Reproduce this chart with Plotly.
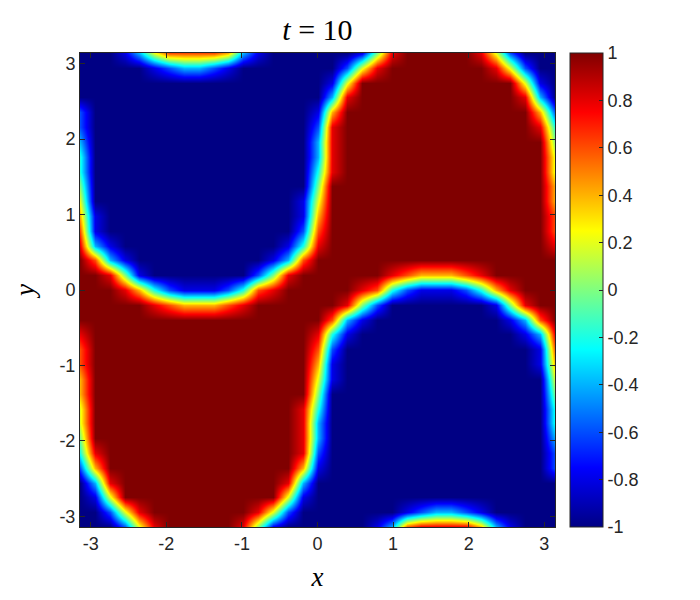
import plotly.graph_objects as go

# node coordinates shared by both axes (x = y), from -pi to pi
grid = [
    -3.1416, -2.9452, -2.7489, -2.5525, -2.3562, -2.1598, -1.9635, -1.7671,
    -1.5708, -1.3744, -1.1781, -0.9817, -0.7854, -0.5890, -0.3927, -0.1963,
    0.0, 0.1963, 0.3927, 0.5890, 0.7854, 0.9817, 1.1781, 1.3744,
    1.5708, 1.7671, 1.9635, 2.1598, 2.3562, 2.5525, 2.7489, 2.9452, 3.1416,
]

# field, one string per row, top row (y = pi) first
# '-' = -1, '+' = 1, digits 0..8 = -0.8 .. 0.8 in steps of 0.2
u_rows = [
    "---0257777620----" "--048+++++851---",
    "-----012210------" "-158+++++++851--",
    "-----------------" "05+++++++++++50-",
    "-----------------" "28+++++++++++82-",
    "1---------------0" "6+++++++++++++61",
    "1---------------1" "8+++++++++++++83",
    "2---------------2" "8++++++++++++++4",
    "3---------------2" "8++++++++++++++5",
    "3---------------3" "8++++++++++++++5",
    "4---------------4" "+++++++++++++++6",
    "5--------------05" "+++++++++++++++6",
    "60-------------06" "+++++++++++++++7",
    "70-------------17" "+++++++++++++++7",
    "820-----------038" "+++++++++++++++8",
    "+720---------027+" "++++++++++++++++",
    "++840-------148++" "++++8766678+++++",
    "+++86310001378+++" "++87310001368+++",
    "+++++8766678++++" "++841-------048++",
    "++++++++++++++++" "+720---------027+",
    "8+++++++++++++++" "830-----------028",
    "7+++++++++++++++" "71-------------07",
    "7+++++++++++++++" "60-------------06",
    "6+++++++++++++++" "50--------------5",
    "6+++++++++++++++" "4---------------4",
    "5++++++++++++++8" "3---------------3",
    "5++++++++++++++8" "2---------------3",
    "4++++++++++++++8" "2---------------2",
    "38+++++++++++++8" "1---------------1",
    "16+++++++++++++6" "0---------------1",
    "-28+++++++++++82" "-----------------",
    "-05+++++++++++50" "-----------------",
    "--158+++++++851-" "------012210-----",
    "---158+++++840--" "----0278888620---",
]
levels = {"-": -1.0, "0": -0.8, "1": -0.6, "2": -0.4, "3": -0.2, "4": 0.0,
          "5": 0.2, "6": 0.4, "7": 0.6, "8": 0.8, "+": 1.0}

axis_ticks = [-3, -2, -1, 0, 1, 2, 3]
axis_tick_text = ["-3", "-2", "-1", "0", "1", "2", "3"]
cbar_ticks = [1, 0.8, 0.6, 0.4, 0.2, 0, -0.2, -0.4, -0.6, -0.8, -1]
cbar_tick_text = ["1", "0.8", "0.6", "0.4", "0.2", "0", "-0.2", "-0.4", "-0.6", "-0.8", "-1"]

jet = [
    [0.0, "rgb(0,0,132)"], [0.125, "rgb(0,0,255)"], [0.375, "rgb(0,255,255)"],
    [0.625, "rgb(255,255,0)"], [0.875, "rgb(255,0,0)"], [1.0, "rgb(128,0,0)"],
]

for row in u_rows:
    assert len(row) == len(grid), (row, len(row))
z = [[levels[c] for c in row] for row in reversed(u_rows)]

ink = "#262626"
tick_font = dict(family="Liberation Sans, Arial, sans-serif", size=18, color=ink)
math_font = dict(family="Liberation Serif, Times New Roman, serif", size=27, color="black")

fig = go.Figure(
    go.Heatmap(
        x=grid,
        y=grid,
        z=z,
        zmin=-1,
        zmax=1,
        zsmooth="best",
        colorscale=jet,
        colorbar=dict(
            thickness=33,
            len=1,
            lenmode="fraction",
            x=1.0316,
            xanchor="left",
            xpad=0,
            y=0.5,
            yanchor="middle",
            ypad=0,
            outlinewidth=1,
            outlinecolor=ink,
            tickvals=cbar_ticks,
            ticktext=cbar_tick_text,
            ticks="inside",
            ticklen=4,
            tickcolor=ink,
            tickfont=tick_font,
        ),
    )
)

axis_style = dict(
    range=[-3.1416, 3.1416],
    tickvals=axis_ticks,
    ticktext=axis_tick_text,
    ticks="inside",
    ticklen=5,
    tickcolor=ink,
    showline=True,
    linecolor=ink,
    linewidth=1,
    mirror="ticks",
    showgrid=False,
    zeroline=False,
    tickfont=tick_font,
)
fig.update_xaxes(**axis_style, title=dict(text="<i>x</i>", font=math_font, standoff=14))
fig.update_yaxes(**axis_style, title=dict(text="<i>y</i>", font=math_font, standoff=16))

# page body adds an 8 px offset, so the figure is 8 px smaller than the window
fig.update_layout(
    width=692,
    height=592,
    margin=dict(l=72, r=145, t=45, b=73),
    plot_bgcolor="white",
    paper_bgcolor="white",
    title=dict(
        text="<i>t</i> = 10",
        font=dict(family="Liberation Serif, Times New Roman, serif", size=30, color="black"),
        x=0.5,
        xref="paper",
        xanchor="center",
        y=0.963,
        yref="container",
        yanchor="middle",
    ),
)

fig.write_html("out.html")
